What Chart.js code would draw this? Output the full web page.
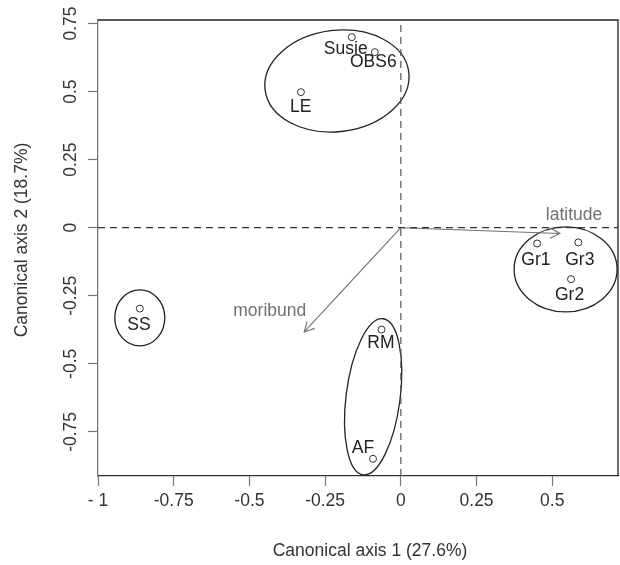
<!DOCTYPE html>
<html><head><meta charset="utf-8">
<script src="https://cdn.jsdelivr.net/npm/chart.js@4.4.1/dist/chart.umd.min.js"></script>
<style>html,body{margin:0;padding:0;background:#fff;} canvas{display:block;}</style>
</head><body>
<canvas id="c" width="620" height="565"></canvas>
<script>
// ---- data ----
const siteNames = ['Susie','OBS6','LE','SS','RM','AF','Gr1','Gr3','Gr2'];
const siteX = [-0.162,-0.086,-0.330,-0.862,-0.064,-0.092,0.450,0.586,0.562];
const siteY = [0.700,0.645,0.498,-0.297,-0.374,-0.849,-0.058,-0.054,-0.189];
const labelX = [-0.182,-0.091,-0.331,-0.865,-0.066,-0.125,0.446,0.591,0.557];
const labelY = [0.656,0.608,0.443,-0.357,-0.425,-0.809,-0.120,-0.120,-0.246];
const vectorNames = ['latitude','moribund'];
const vectorX = [0.525,-0.319];
const vectorY = [-0.021,-0.383];
const vectorLabelX = [0.572,-0.433];
const vectorLabelY = [0.046,-0.307];
const groupCx = [-0.211,0.544,-0.862,-0.0915];
const groupCy = [0.539,-0.153,-0.331,-0.621];
const groupRx = [0.239,0.170,0.0826,0.0892];
const groupRy = [0.186,0.156,0.103,0.289];
const groupRot = [-7,0,0,7.3];
const xTicks = [-1,-0.75,-0.5,-0.25,0,0.25,0.5];
const xTickLabels = ['- 1','-0.75','-0.5','-0.25','0','0.25','0.5'];
const yTicks = [-0.75,-0.5,-0.25,0,0.25,0.5,0.75];
const yTickLabels = ['-0.75','-0.5','-0.25','0','0.25','0.5','0.75'];
const xTitle = 'Canonical axis 1 (27.6%)';
const yTitle = 'Canonical axis 2 (18.7%)';
const xRange = [-1, 0.717];
const yRange = [-0.912, 0.763];

const FONT = "'Liberation Sans', Arial, Helvetica, sans-serif";
const FS = 17.5;

const points = siteX.map((x,i)=>({x:x, y:siteY[i]}));
const vectorSets = vectorX.map((vx,i)=>({
  type:'scatter', showLine:true, data:[{x:0,y:0},{x:vx,y:vectorY[i]}],
  borderColor:'#707070', borderWidth:1.1, pointRadius:0, pointHoverRadius:0
}));

const drawPlugin = {
  id:'extras',
  beforeDatasetsDraw(chart){
    const ctx = chart.ctx, xs = chart.scales.x, ys = chart.scales.y;
    ctx.save();
    ctx.strokeStyle = '#222'; ctx.lineWidth = 1.3;
    for (let i=0;i<groupCx.length;i++){
      const cx = xs.getPixelForValue(groupCx[i]);
      const cy = ys.getPixelForValue(groupCy[i]);
      const rx = Math.abs(xs.getPixelForValue(groupCx[i]+groupRx[i]) - cx);
      const ry = Math.abs(ys.getPixelForValue(groupCy[i]+groupRy[i]) - cy);
      ctx.beginPath();
      ctx.ellipse(cx, cy, rx, ry, groupRot[i]*Math.PI/180, 0, Math.PI*2);
      ctx.stroke();
    }
    ctx.restore();
  },
  afterDatasetsDraw(chart){
    const ctx = chart.ctx, xs = chart.scales.x, ys = chart.scales.y, ca = chart.chartArea;
    ctx.save();
    // arrow heads
    ctx.strokeStyle = '#707070'; ctx.lineWidth = 1.1;
    const x0 = xs.getPixelForValue(0), y0 = ys.getPixelForValue(0);
    for (let i=0;i<vectorX.length;i++){
      const tx = xs.getPixelForValue(vectorX[i]), ty = ys.getPixelForValue(vectorY[i]);
      const ang = Math.atan2(ty-y0, tx-x0), L = 11, a = 28*Math.PI/180;
      ctx.beginPath();
      ctx.moveTo(tx - L*Math.cos(ang-a), ty - L*Math.sin(ang-a));
      ctx.lineTo(tx, ty);
      ctx.lineTo(tx - L*Math.cos(ang+a), ty - L*Math.sin(ang+a));
      ctx.stroke();
    }
    // labels
    ctx.font = FS + 'px ' + FONT;
    ctx.textAlign = 'center'; ctx.textBaseline = 'middle';
    ctx.fillStyle = '#222';
    siteNames.forEach((n,i)=>{
      ctx.fillText(n, xs.getPixelForValue(labelX[i]), ys.getPixelForValue(labelY[i]));
    });
    ctx.fillStyle = '#707070';
    vectorNames.forEach((n,i)=>{
      ctx.fillText(n, xs.getPixelForValue(vectorLabelX[i]), ys.getPixelForValue(vectorLabelY[i]));
    });
    // top & right border
    ctx.strokeStyle = '#222'; ctx.lineWidth = 1.3;
    ctx.beginPath();
    ctx.moveTo(ca.left, ca.top); ctx.lineTo(ca.right, ca.top); ctx.lineTo(ca.right, ca.bottom);
    ctx.stroke();
    ctx.restore();
  },
  afterDraw(chart){
    const ctx = chart.ctx, ys = chart.scales.y, ca = chart.chartArea;
    ctx.save();
    ctx.font = FS + 'px ' + FONT;
    ctx.fillStyle = '#333';
    ctx.textAlign = 'center'; ctx.textBaseline = 'middle';
    // rotated y tick labels
    yTicks.forEach((v,i)=>{
      const py = ys.getPixelForValue(v);
      ctx.save(); ctx.translate(ca.left - 26.5, py); ctx.rotate(-Math.PI/2);
      ctx.fillText(yTickLabels[i], 0, 0); ctx.restore();
    });
    // titles
    ctx.fillText(xTitle, (ca.left+ca.right)/2 + 12, ca.bottom + 75);
    ctx.save(); ctx.translate(22, (ca.top+ca.bottom)/2 - 8); ctx.rotate(-Math.PI/2);
    ctx.fillText(yTitle, 0, 0); ctx.restore();
    ctx.restore();
  }
};

new Chart(document.getElementById('c'), {
  type:'scatter',
  data:{ datasets:[
    { type:'scatter', showLine:true, data:[{x:0,y:yRange[0]},{x:0,y:yRange[1]}],
      borderColor:'#555', borderWidth:1.2, borderDash:[7,5], pointRadius:0, pointHoverRadius:0 },
    { type:'scatter', showLine:true, data:[{x:xRange[0],y:0},{x:xRange[1],y:0}],
      borderColor:'#333', borderWidth:1.2, borderDash:[7,5], pointRadius:0, pointHoverRadius:0 },
    ...vectorSets,
    { data:points, pointStyle:'circle', pointRadius:3.5, pointHoverRadius:3.5,
      backgroundColor:'#fff', borderColor:'#333', borderWidth:1, showLine:false }
  ]},
  options:{
    responsive:false, animation:false,
    layout:{ autoPadding:false, padding:{ top:20, right:2, left:0, bottom:0 } },
    plugins:{ legend:{display:false}, tooltip:{enabled:false} },
    scales:{
      x:{ type:'linear', min:xRange[0], max:xRange[1],
        afterBuildTicks(s){ s.ticks = xTicks.map(v=>({value:v})); },
        afterFit(s){ s.height = 89; s.paddingLeft = 0; s.paddingRight = 0; },
        grid:{ drawOnChartArea:false, drawTicks:true, tickLength:10, tickColor:'#777', tickWidth:1.2 },
        border:{ display:true, color:'#333', width:1.3 },
        ticks:{ autoSkip:false, maxRotation:0, minRotation:0, padding:5, color:'#333',
          font:{ family:FONT, size:FS },
          callback(v){ const i = xTicks.indexOf(v); return i>=0 ? xTickLabels[i] : ''; } }
      },
      y:{ type:'linear', min:yRange[0], max:yRange[1],
        afterBuildTicks(s){ s.ticks = yTicks.map(v=>({value:v})); },
        afterFit(s){ s.width = 98; s.paddingTop = 0; s.paddingBottom = 0; },
        grid:{ drawOnChartArea:false, drawTicks:true, tickLength:10, tickColor:'#777', tickWidth:1.2 },
        border:{ display:true, color:'#777', width:1.3 },
        ticks:{ display:false }
      }
    }
  },
  plugins:[drawPlugin]
});
</script>
</body></html>
